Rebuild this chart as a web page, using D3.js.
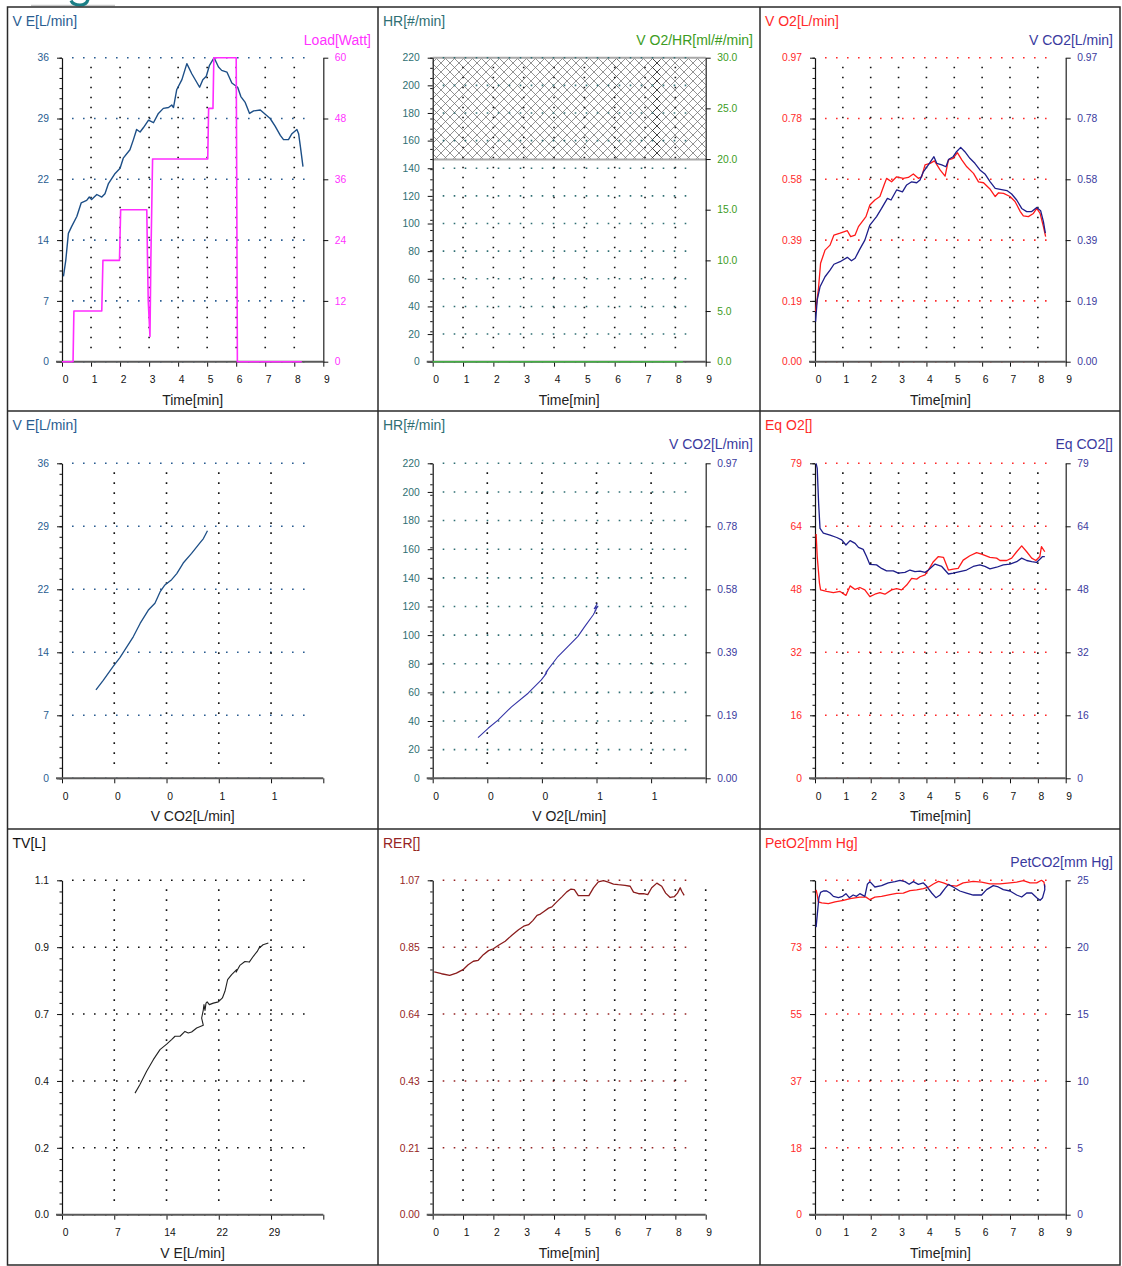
<!DOCTYPE html>
<html>
<head>
<meta charset="utf-8">
<script src="https://cdn.jsdelivr.net/npm/d3@7"></script>
<style>
  html, body { margin: 0; padding: 0; background: #fff; }
  svg { display: block; font-family: "Liberation Sans", Arial, sans-serif; }
</style>
</head>
<body>
<script>
// ---------- tick labels ----------
const timeTicks   = ["0","1","2","3","4","5","6","7","8","9"];
const flowTicksX  = ["0","0","0","1","1",""];
const veTicksX    = ["0","7","14","22","29",""];
const veTicks     = ["0","7","14","22","29","36"];
const loadTicks   = ["0","12","24","36","48","60"];
const hrTicks     = ["0","20","40","60","80","100","120","140","160","180","200","220"];
const o2pulseTicks= ["0.0","5.0","10.0","15.0","20.0","25.0","30.0"];
const flowTicks   = ["0.00","0.19","0.39","0.58","0.78","0.97"];
const eqTicks     = ["0","16","32","48","64","79"];
const tvTicks     = ["0.0","0.2","0.4","0.7","0.9","1.1"];
const rerTicks    = ["0.00","0.21","0.43","0.64","0.85","1.07"];
const peto2Ticks  = ["0","18","37","55","73",""];
const petco2Ticks = ["0","5","10","15","20","25"];

// ---------- series: [time min, value] ----------
const veByTime = [[0.05,10.1],[0.13,12.0],[0.22,15.2],[0.33,16.0],[0.51,17.2],[0.66,18.8],[0.85,19.1],[0.94,19.5],[1.02,19.2],[1.2,19.8],[1.37,19.5],[1.48,19.9],[1.6,21.1],[1.83,22.3],[2.0,22.9],[2.11,24.1],[2.34,25.1],[2.46,26.3],[2.57,27.5],[2.69,27.2],[2.8,27.7],[2.98,28.6],[3.15,28.3],[3.32,29.4],[3.49,30.0],[3.67,30.1],[3.78,30.4],[3.84,30.1],[3.95,32.2],[4.13,33.4],[4.3,35.3],[4.47,34.1],[4.74,32.5],[4.85,33.4],[4.97,33.8],[5.08,35.1],[5.24,36.0],[5.39,34.9],[5.5,34.5],[5.68,34.3],[5.85,33.0],[6.05,32.5],[6.16,31.4],[6.31,30.7],[6.46,29.4],[6.6,29.7],[6.83,29.8],[7.0,29.3],[7.17,28.8],[7.34,27.9],[7.52,26.8],[7.63,26.3],[7.8,26.3],[7.92,27.0],[8.09,27.5],[8.15,27.0],[8.21,25.5],[8.3,23.1]];

const loadByTime = [[0,0],[0.38,0],[0.41,10],[1.37,10],[1.41,20],[1.98,20],[2.02,30],[2.92,30],[2.94,22],[2.97,12],[3.03,5],[3.06,20],[3.12,40],[5.02,40],[5.05,50],[5.2,50],[5.23,60],[6.0,60],[6.02,33],[6.04,0],[8.26,0]];

const hrZone = [146.4, 220];
const o2pulseByTime = [[0,0],[8.25,0]];

const vo2ByTime = [[0.02,0.16],[0.12,0.229],[0.2,0.314],[0.36,0.356],[0.54,0.372],[0.68,0.404],[0.9,0.41],[1.16,0.418],[1.28,0.399],[1.44,0.404],[1.56,0.431],[1.83,0.463],[1.97,0.5],[2.15,0.516],[2.33,0.527],[2.48,0.564],[2.57,0.585],[2.75,0.574],[2.93,0.59],[3.17,0.585],[3.35,0.588],[3.53,0.599],[3.71,0.585],[3.83,0.59],[3.95,0.628],[4.13,0.633],[4.29,0.641],[4.49,0.612],[4.67,0.592],[4.79,0.644],[4.96,0.649],[5.11,0.667],[5.27,0.644],[5.45,0.622],[5.69,0.601],[5.87,0.574],[6.05,0.571],[6.29,0.55],[6.47,0.527],[6.59,0.539],[6.77,0.537],[7.0,0.527],[7.18,0.511],[7.37,0.479],[7.48,0.465],[7.66,0.463],[7.84,0.473],[7.96,0.489],[8.08,0.473],[8.2,0.431],[8.28,0.399]];

const vco2ByTime = [[0.02,0.128],[0.08,0.197],[0.18,0.239],[0.36,0.271],[0.54,0.292],[0.68,0.311],[0.9,0.319],[1.16,0.333],[1.31,0.322],[1.44,0.33],[1.59,0.356],[1.79,0.388],[1.97,0.436],[2.21,0.463],[2.39,0.489],[2.6,0.521],[2.73,0.516],[2.93,0.548],[3.14,0.542],[3.29,0.564],[3.47,0.574],[3.65,0.571],[3.77,0.58],[3.89,0.606],[4.07,0.628],[4.27,0.654],[4.37,0.633],[4.55,0.628],[4.7,0.622],[4.8,0.646],[4.96,0.654],[5.08,0.67],[5.23,0.684],[5.38,0.67],[5.56,0.649],[5.74,0.633],[5.92,0.612],[6.1,0.599],[6.29,0.574],[6.47,0.553],[6.65,0.55],[6.89,0.546],[7.06,0.535],[7.24,0.516],[7.42,0.489],[7.6,0.479],[7.78,0.479],[7.96,0.492],[8.1,0.482],[8.2,0.447],[8.27,0.41]];

// ---------- series: [x value, y value] ----------
const veByVco2 = [[0.126,10.1],[0.153,11.2],[0.19,12.8],[0.215,13.8],[0.24,15.0],[0.265,16.2],[0.29,17.7],[0.32,19.2],[0.326,19.4],[0.345,20.0],[0.364,21.3],[0.382,22.1],[0.407,22.7],[0.426,23.4],[0.45,24.6],[0.481,25.7],[0.512,26.9],[0.525,27.4],[0.54,28.3]];

const vco2ByVo2 = [[0.161,0.125],[0.197,0.154],[0.232,0.179],[0.28,0.22],[0.339,0.262],[0.386,0.303],[0.404,0.323],[0.398,0.317],[0.41,0.335],[0.402,0.326],[0.445,0.375],[0.481,0.406],[0.516,0.437],[0.54,0.467],[0.57,0.503],[0.58,0.518],[0.576,0.514],[0.586,0.529],[0.574,0.522],[0.585,0.538]];

const eqo2ByTime = [[0.04,61.6],[0.08,55.9],[0.16,49.2],[0.2,47.5],[0.42,47.1],[0.66,46.8],[0.9,47.1],[1.11,46.1],[1.26,48.5],[1.44,47.6],[1.61,48.1],[1.79,47.5],[1.97,45.8],[2.15,46.4],[2.33,46.8],[2.51,46.4],[2.75,47.5],[2.93,47.8],[3.11,47.5],[3.29,48.7],[3.47,50.4],[3.65,50.2],[3.77,50.8],[3.95,51.3],[4.07,52.5],[4.25,54.6],[4.43,55.9],[4.61,55.7],[4.79,52.5],[4.96,52.7],[5.14,52.9],[5.32,55.0],[5.56,56.1],[5.8,56.9],[5.98,56.5],[6.28,55.7],[6.52,55.5],[6.64,54.9],[6.88,54.9],[7.06,55.5],[7.24,57.1],[7.42,58.6],[7.6,57.1],[7.78,55.5],[7.93,54.9],[8.07,55.9],[8.13,58.4],[8.25,57.1]];

const eqco2ByTime = [[0.04,79.4],[0.08,78.1],[0.13,69.3],[0.18,63.0],[0.3,61.8],[0.54,61.3],[0.78,60.7],[0.96,60.1],[1.11,58.8],[1.26,59.9],[1.44,59.2],[1.56,58.2],[1.73,57.7],[1.85,55.9],[1.97,53.9],[2.21,53.8],[2.39,52.9],[2.57,52.3],[2.81,52.3],[2.99,51.7],[3.23,51.9],[3.41,52.5],[3.59,52.1],[3.77,52.2],[3.95,51.9],[4.07,52.5],[4.31,54.0],[4.55,53.4],[4.79,51.5],[4.96,51.7],[5.2,52.1],[5.44,52.5],[5.68,53.4],[5.92,53.8],[6.1,53.4],[6.28,52.8],[6.52,53.2],[6.76,53.8],[7.0,54.0],[7.24,54.6],[7.42,55.5],[7.6,54.9],[7.78,54.6],[7.95,54.4],[8.07,55.2],[8.17,55.9],[8.25,55.9]];

const tvByVe = [[10.06,0.40],[10.74,0.428],[11.66,0.472],[12.58,0.51],[13.5,0.543],[14.42,0.561],[15.1,0.576],[15.57,0.587],[16.26,0.587],[16.94,0.603],[17.4,0.598],[17.86,0.601],[18.55,0.614],[19.47,0.623],[19.24,0.647],[19.47,0.674],[19.56,0.691],[19.7,0.672],[19.84,0.696],[20.0,0.70],[20.3,0.691],[20.85,0.696],[21.54,0.70],[22.1,0.713],[22.45,0.735],[22.82,0.773],[23.37,0.79],[24.06,0.806],[24.0,0.798],[24.5,0.82],[25.2,0.833],[25.8,0.831],[26.36,0.85],[26.9,0.866],[27.27,0.883],[27.1,0.875],[27.7,0.888],[28.43,0.894]];

const rerByTime = [[0.05,0.777],[0.29,0.771],[0.56,0.766],[0.78,0.773],[1.0,0.784],[1.17,0.80],[1.34,0.811],[1.5,0.814],[1.67,0.832],[1.84,0.845],[2.0,0.851],[2.17,0.862],[2.39,0.875],[2.61,0.894],[2.83,0.912],[3.0,0.923],[3.16,0.928],[3.3,0.941],[3.44,0.958],[3.55,0.962],[3.68,0.971],[3.82,0.981],[3.93,0.985],[4.09,1.001],[4.26,1.017],[4.42,1.033],[4.56,1.042],[4.67,1.04],[4.8,1.021],[4.97,1.021],[5.15,1.021],[5.3,1.046],[5.46,1.065],[5.63,1.069],[5.79,1.064],[5.96,1.058],[6.12,1.056],[6.34,1.054],[6.51,1.051],[6.62,1.032],[6.79,1.027],[6.95,1.027],[7.09,1.024],[7.22,1.046],[7.39,1.061],[7.55,1.051],[7.68,1.029],[7.83,1.015],[7.97,1.018],[8.07,1.029],[8.16,1.046],[8.21,1.035],[8.29,1.022]];

const peto2ByTime = [[0.04,88.9],[0.08,87.6],[0.12,85.6],[0.24,85.3],[0.48,85.1],[0.72,85.6],[1.02,86.0],[1.26,86.5],[1.61,86.9],[1.83,86.9],[1.97,86.2],[2.15,86.9],[2.39,87.1],[2.69,87.6],[2.93,87.9],[3.17,88.0],[3.41,88.7],[3.65,88.9],[3.89,89.2],[4.07,89.6],[4.25,90.5],[4.43,91.2],[4.61,90.8],[4.84,90.1],[5.08,89.9],[5.32,90.8],[5.68,91.2],[5.98,91.0],[6.28,90.5],[6.64,90.5],[7.0,90.8],[7.24,91.0],[7.48,91.4],[7.72,90.8],[7.96,90.8],[8.13,91.5],[8.22,91.0],[8.25,89.6]];

const petco2ByTime = [[0.04,21.5],[0.08,22.4],[0.14,23.7],[0.2,24.1],[0.3,24.2],[0.42,24.2],[0.54,24.05],[0.66,23.8],[0.84,23.7],[0.99,23.8],[1.11,24.0],[1.23,23.7],[1.37,23.9],[1.49,23.8],[1.61,24.0],[1.79,23.8],[1.88,24.7],[1.97,24.9],[2.15,24.5],[2.39,24.6],[2.63,24.8],[2.87,24.9],[3.05,25.0],[3.23,24.9],[3.38,24.7],[3.53,24.9],[3.71,24.7],[3.89,24.8],[4.01,24.55],[4.19,24.05],[4.34,23.7],[4.49,23.9],[4.67,24.4],[4.79,24.7],[4.96,24.5],[5.2,24.2],[5.44,24.05],[5.68,23.9],[5.98,23.9],[6.16,24.3],[6.4,24.6],[6.58,24.5],[6.76,24.3],[7.0,24.2],[7.24,23.9],[7.42,23.75],[7.6,24.05],[7.78,24.05],[7.96,23.7],[8.08,23.5],[8.17,23.7],[8.25,24.3],[8.24,24.7]];

// ---------- colours ----------
const cVE = "#2a5d91", cVEline = "#1d4f87";
const cLoad = "#ff33ff";
const cHR = "#2f6f73";
const cGreen = "#3c9c22";
const cRed = "#ff2a2a", cRedLine = "#ff1a1a";
const cNavy = "#3a3a9e", cNavyLine = "#1e1e8a";
const cRER = "#962424", cRERline = "#8a1c1c";
const cInk = "#111";

const FONT_TICK = 10.3, FONT_TITLE = 14;

const svg = d3.select("body").append("svg").attr("width", 1122).attr("height", 1266);
const defs = svg.append("defs");

function hatchPattern(id, color, width, s) {
  const p = defs.append("pattern").attr("id", id)
    .attr("patternUnits", "userSpaceOnUse").attr("width", s).attr("height", s);
  p.append("path").attr("d", `M0,0L${s},${s}M${s},0L0,${s}M${-s/2},${s/2}L${s/2},${s*1.5}M${s/2},${-s/2}L${s*1.5},${s/2}`)
    .attr("stroke", color).attr("stroke-width", width).attr("fill", "none");
}
hatchPattern("hatch", "#6e6e6e", 0.75, 9);
hatchPattern("hatchDark", "#222", 1.0, 9);

// header remnant above the frame: a rule and the tail of a heading glyph
svg.append("line").attr("x1", 31).attr("x2", 115).attr("y1", 5.5).attr("y2", 5.5)
  .attr("stroke", "#c9c9c9").attr("stroke-width", 1.5);
svg.append("path").attr("d", "M71,0.5 Q73,5 80,5 Q87,5 88,-1")
  .attr("fill", "none").attr("stroke", "#1b7f86").attr("stroke-width", 3.2);

// panel layout
const cols = [
  { x0: 7.5, x1: 378, left: 62, right: 323.3 },
  { x0: 378, x1: 760, left: 432.7, right: 705.7 },
  { x0: 760, x1: 1120, left: 815, right: 1065.7 }
];
const rows = [
  { y0: 7, top: 57.7, bottom: 361.7 },
  { y0: 411, top: 463.3, bottom: 778.3 },
  { y0: 829, top: 880.3, bottom: 1214.7 }
];

const evenly = (dom, n) => d3.range(n).map(i => dom[0] + (dom[1] - dom[0]) * i / (n - 1));

function styleAxis(sel, color) {
  sel.selectAll("text").attr("fill", color).attr("font-size", FONT_TICK)
    .attr("font-family", "\"Liberation Sans\", Arial, sans-serif");
  sel.selectAll("line").attr("stroke", cInk).attr("stroke-width", 1);
}

function drawPanel(p) {
  const c = cols[p.col], r = rows[p.row];
  const g = svg.append("g");
  const x = d3.scaleLinear().domain(p.xDomain).range([c.left, c.right]);
  const yL = d3.scaleLinear().domain(p.yDomain).range([r.bottom, r.top]);
  const yR = p.rDomain ? d3.scaleLinear().domain(p.rDomain).range([r.bottom, r.top]) : null;

  if (p.under) p.under(g, x, yL, c, r);

  // horizontal dotted grid at left-axis ticks
  const yVals = evenly(p.yDomain, p.yLabels.length);
  g.append("g").selectAll("line").data(yVals).join("line")
    .attr("x1", c.left + 10).attr("x2", c.right - 10)
    .attr("y1", d => yL(d)).attr("y2", d => yL(d))
    .attr("stroke", p.gridColor).attr("stroke-width", 1.6).attr("stroke-dasharray", "1.6 9.4");

  // vertical dotted grid
  const xVals = evenly(p.xDomain, p.xLabels.length);
  const gridX = xVals.filter((d, i) => i > 0 && (i < xVals.length - 1 || p.lastGrid));
  g.append("g").selectAll("line").data(gridX).join("line")
    .attr("x1", d => x(d)).attr("x2", d => x(d))
    .attr("y1", r.top + 9).attr("y2", r.bottom - 9)
    .attr("stroke", cInk).attr("stroke-width", 1.6).attr("stroke-dasharray", "1.6 8.4");

  // left axis with minor ticks
  const minor = g.append("g").attr("transform", `translate(${c.left},0)`)
    .call(d3.axisLeft(yL).tickValues(evenly(p.yDomain, 31)).tickSize(2.5).tickFormat(""));
  minor.select(".domain").remove();
  styleAxis(minor, cInk);
  const la = g.append("g").attr("transform", `translate(${c.left},0)`)
    .call(d3.axisLeft(yL).tickValues(yVals).tickFormat((d, i) => p.yLabels[i])
      .tickSize(5).tickPadding(8).tickSizeOuter(0));
  styleAxis(la, p.yColor);
  la.select(".domain").attr("stroke", cInk).attr("stroke-width", 1.2);

  // right axis
  if (yR) {
    const rVals = evenly(p.rDomain, p.rLabels.length);
    const ra = g.append("g").attr("transform", `translate(${c.right},0)`)
      .call(d3.axisRight(yR).tickValues(rVals).tickFormat((d, i) => p.rLabels[i])
        .tickSize(5).tickPadding(6.5).tickSizeOuter(0));
    styleAxis(ra, p.rColor);
    ra.select(".domain").attr("stroke", "#222").attr("stroke-width", 1.2);
  }

  // bottom axis
  const ba = g.append("g").attr("transform", `translate(0,${r.bottom})`)
    .call(d3.axisBottom(x).tickValues(xVals).tickFormat((d, i) => p.xLabels[i])
      .tickSize(5).tickPadding(9).tickSizeOuter(0));
  ba.select(".domain").remove();
  styleAxis(ba, cInk);
  ba.selectAll("text").attr("dx", 3);
  g.append("line").attr("x1", c.left - 6).attr("x2", c.right)
    .attr("y1", r.bottom).attr("y2", r.bottom)
    .attr("stroke", "#5a5a5a").attr("stroke-width", 2);

  // data lines
  p.series.forEach(s => {
    const sy = s.axis === "right" ? yR : yL;
    const line = d3.line().x(d => x(d[0])).y(d => sy(d[1]));
    g.append("path").datum(s.data).attr("d", line)
      .attr("fill", "none").attr("stroke", s.color)
      .attr("stroke-width", s.width || 1.3).attr("stroke-linejoin", "round");
  });

  // titles
  g.append("text").attr("x", c.x0 + 5).attr("y", r.y0 + 19)
    .attr("font-size", FONT_TITLE).attr("fill", p.yColor).text(p.yTitle);
  if (p.rTitle) {
    g.append("text").attr("x", c.x1 - 7).attr("y", r.y0 + 38).attr("text-anchor", "end")
      .attr("font-size", FONT_TITLE).attr("fill", p.rColor).text(p.rTitle);
  }
  g.append("text").attr("x", (c.left + c.right) / 2).attr("y", r.bottom + 43)
    .attr("text-anchor", "middle").attr("font-size", FONT_TITLE).attr("fill", "#222")
    .text(p.xTitle);
}

// 1: ventilation and load over time
drawPanel({
  col: 0, row: 0, xDomain: [0, 9], xLabels: timeTicks, xTitle: "Time[min]",
  yDomain: [0, 36], yLabels: veTicks, yColor: cVE, yTitle: "V E[L/min]", gridColor: cVE,
  rDomain: [0, 60], rLabels: loadTicks, rColor: cLoad, rTitle: "Load[Watt]",
  series: [
    { data: veByTime, color: cVEline, width: 1.4 },
    { data: loadByTime, color: "#ff2cff", axis: "right", width: 1.6 }
  ]
});

// 2: heart rate zone and oxygen pulse
drawPanel({
  col: 1, row: 0, xDomain: [0, 9], xLabels: timeTicks, xTitle: "Time[min]",
  yDomain: [0, 220], yLabels: hrTicks, yColor: cHR, yTitle: "HR[#/min]", gridColor: cHR,
  rDomain: [0, 30], rLabels: o2pulseTicks, rColor: cGreen, rTitle: "V O2/HR[ml/#/min]",
  under: (g, x, y, c) => {
    const y0 = y(hrZone[0]), y1 = y(hrZone[1]);
    g.append("rect").attr("x", c.left).attr("y", y1).attr("width", c.right - c.left)
      .attr("height", y0 - y1).attr("fill", "url(#hatch)");
    g.append("rect").attr("x", x(7.22)).attr("y", y1).attr("width", x(7.5) - x(7.22))
      .attr("height", y0 - y1).attr("fill", "url(#hatchDark)").attr("opacity", 0.7);
    g.append("rect").attr("x", x(5.95)).attr("y", y1).attr("width", x(6.12) - x(5.95))
      .attr("height", y0 - y1).attr("fill", "url(#hatchDark)").attr("opacity", 0.3);
    [y0, y1].forEach(v => g.append("line").attr("x1", c.left).attr("x2", c.right)
      .attr("y1", v).attr("y2", v).attr("stroke", "#a8a8a8").attr("stroke-width", 2));
  },
  series: [{ data: o2pulseByTime, color: "#44b044", axis: "right", width: 1.6 }]
});

// 3: oxygen uptake and carbon dioxide output
drawPanel({
  col: 2, row: 0, xDomain: [0, 9], xLabels: timeTicks, xTitle: "Time[min]",
  yDomain: [0, 0.97], yLabels: flowTicks, yColor: cRed, yTitle: "V O2[L/min]", gridColor: cRed,
  rDomain: [0, 0.97], rLabels: flowTicks, rColor: cNavy, rTitle: "V CO2[L/min]",
  series: [
    { data: vo2ByTime, color: cRedLine },
    { data: vco2ByTime, color: cNavyLine, axis: "right" }
  ]
});

// 4: ventilation against CO2 output
drawPanel({
  col: 0, row: 1, xDomain: [0, 0.97], xLabels: flowTicksX, xTitle: "V CO2[L/min]",
  yDomain: [0, 36], yLabels: veTicks, yColor: cVE, yTitle: "V E[L/min]", gridColor: cVE,
  series: [{ data: veByVco2, color: cVEline }]
});

// 5: CO2 output against O2 uptake
drawPanel({
  col: 1, row: 1, xDomain: [0, 0.97], xLabels: flowTicksX, xTitle: "V O2[L/min]",
  yDomain: [0, 220], yLabels: hrTicks, yColor: cHR, yTitle: "HR[#/min]", gridColor: cHR,
  rDomain: [0, 0.97], rLabels: flowTicks, rColor: cNavy, rTitle: "V CO2[L/min]",
  series: [{ data: vco2ByVo2, color: "#3333a6", axis: "right", width: 1.1 }]
});

// 6: ventilatory equivalents
drawPanel({
  col: 2, row: 1, xDomain: [0, 9], xLabels: timeTicks, xTitle: "Time[min]",
  yDomain: [0, 79.4], yLabels: eqTicks, yColor: cRed, yTitle: "Eq O2[]", gridColor: cRed,
  rDomain: [0, 79.4], rLabels: eqTicks, rColor: cNavy, rTitle: "Eq CO2[]",
  series: [
    { data: eqo2ByTime, color: cRedLine },
    { data: eqco2ByTime, color: cNavyLine, axis: "right" }
  ]
});

// 7: tidal volume against ventilation
drawPanel({
  col: 0, row: 2, xDomain: [0, 36], xLabels: veTicksX, xTitle: "V E[L/min]",
  yDomain: [0, 1.1], yLabels: tvTicks, yColor: cInk, yTitle: "TV[L]", gridColor: cInk,
  series: [{ data: tvByVe, color: "#222", width: 1.1 }]
});

// 8: respiratory exchange ratio
drawPanel({
  col: 1, row: 2, xDomain: [0, 9], xLabels: timeTicks, xTitle: "Time[min]", lastGrid: true,
  yDomain: [0, 1.07], yLabels: rerTicks, yColor: cRER, yTitle: "RER[]", gridColor: cRER,
  series: [{ data: rerByTime, color: cRERline }]
});

// 9: end-tidal partial pressures
drawPanel({
  col: 2, row: 2, xDomain: [0, 9], xLabels: timeTicks, xTitle: "Time[min]",
  yDomain: [0, 91.5], yLabels: peto2Ticks, yColor: cRed, yTitle: "PetO2[mm Hg]", gridColor: cRed,
  rDomain: [0, 25], rLabels: petco2Ticks, rColor: cNavy, rTitle: "PetCO2[mm Hg]",
  series: [
    { data: peto2ByTime, color: cRedLine },
    { data: petco2ByTime, color: cNavyLine, axis: "right" }
  ]
});

// frame and dividers
const frame = svg.append("g").attr("fill", "none").attr("stroke", "#2a2a2a").attr("stroke-width", 1.5);
frame.append("rect").attr("x", 7.5).attr("y", 7).attr("width", 1112.5).attr("height", 1258);
frame.append("line").attr("x1", 378).attr("x2", 378).attr("y1", 7).attr("y2", 1265);
frame.append("line").attr("x1", 760).attr("x2", 760).attr("y1", 7).attr("y2", 1265);
frame.append("line").attr("x1", 7.5).attr("x2", 1120).attr("y1", 411).attr("y2", 411);
frame.append("line").attr("x1", 7.5).attr("x2", 1120).attr("y1", 829).attr("y2", 829);
</script>
</body>
</html>
